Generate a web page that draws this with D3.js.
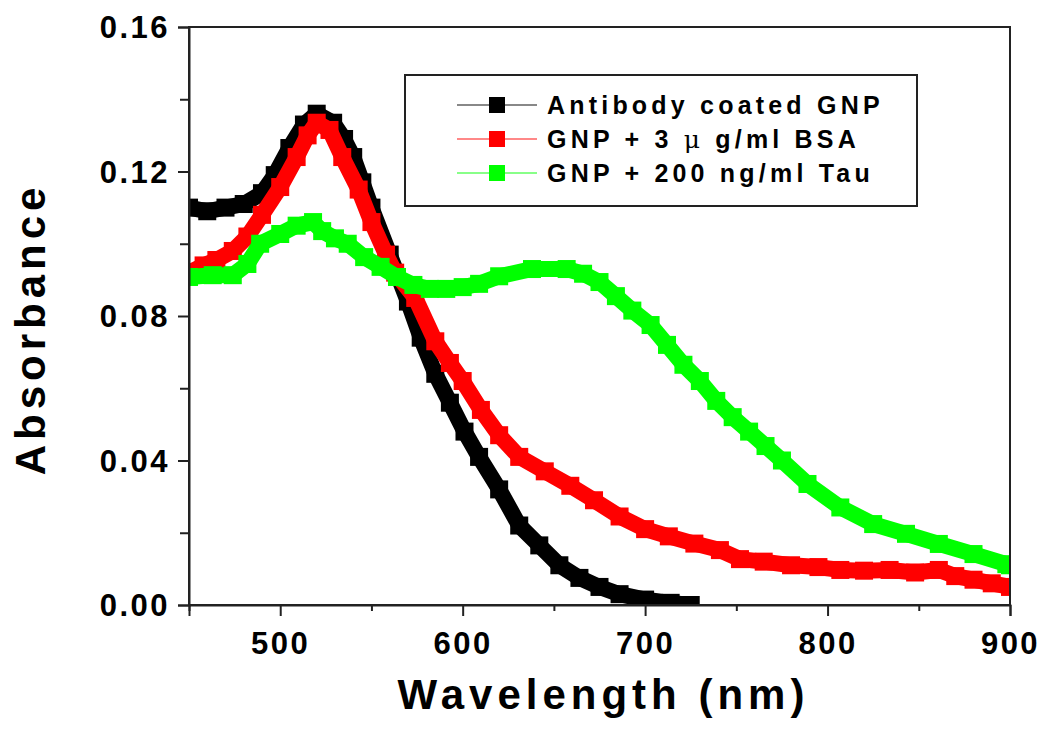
<!DOCTYPE html>
<html>
<head>
<meta charset="utf-8">
<script src="https://cdn.jsdelivr.net/npm/d3@7"></script>
<style>
  body { margin: 0; background: #fff; }
  text { font-family: "Liberation Sans", Arial, sans-serif; font-weight: bold; }
</style>
</head>
<body>
<div id="my_dataviz"></div>
<script>
// data: wavelength (nm) and absorbance for each sample
var antibodyNm  = [450,460,470,480,490,497,505,513,520,529,535,540,545,550,560,570,577,585,593,601,609,620,631,642,653,664,675,686,700,714,725];
var antibodyAbs = [0.110,0.109,0.110,0.111,0.114,0.119,0.1265,0.133,0.136,0.1335,0.129,0.124,0.117,0.110,0.097,0.084,0.074,0.064,0.056,0.048,0.041,0.032,0.022,0.0165,0.011,0.0075,0.005,0.003,0.0015,0.0006,0.0];

var bsaNm  = [450,458,465,474,482,490,500,509,515,520,527,534,543,550,558,563,574,585,593,600,610,620,631,645,659,672,686,700,713,727,741,752,765,780,795,807,820,834,848,861,870,880,890,900];
var bsaAbs = [0.092,0.094,0.0955,0.098,0.102,0.108,0.1157,0.124,0.130,0.1335,0.1315,0.124,0.115,0.106,0.097,0.092,0.085,0.073,0.067,0.062,0.054,0.047,0.041,0.037,0.033,0.029,0.0245,0.021,0.019,0.017,0.0152,0.0127,0.012,0.011,0.0105,0.0097,0.0095,0.0097,0.009,0.0097,0.008,0.007,0.006,0.005];

var tauNm  = [450,463,474,482,489,500,509,518,523,530,537,546,555,564,573,582,591,600,609,620,638,657,666,675,684,693,703,712,721,730,739,748,757,766,775,789,807,825,843,861,880,898,900];
var tauAbs = [0.0908,0.0913,0.0913,0.0944,0.100,0.1027,0.105,0.106,0.1035,0.1015,0.100,0.0963,0.0936,0.0908,0.0886,0.0875,0.0875,0.088,0.0889,0.091,0.093,0.093,0.0917,0.0894,0.0855,0.0815,0.0775,0.072,0.0665,0.062,0.0565,0.052,0.048,0.044,0.040,0.0335,0.027,0.0224,0.0197,0.0169,0.0141,0.0113,0.011];

var seriesNames = ["Antibody coated GNP", "GNP + 3 \u03bc g/ml BSA", "GNP + 200 ng/ml Tau"];
var seriesColors = ["#000000", "#ff0000", "#00ff00"];
var legendLineColors = ["#888888", "#ff8888", "#88ff88"];

var xTicks = [500, 600, 700, 800, 900];
var yTicks = [0.00, 0.04, 0.08, 0.12, 0.16];

// set the dimensions and margins of the graph
var margin = {top: 27, right: 40, bottom: 126, left: 189},
    width = 1050 - margin.left - margin.right,
    height = 731 - margin.top - margin.bottom;

var svg = d3.select("#my_dataviz")
  .append("svg")
    .attr("width", 1050)
    .attr("height", 731)
  .append("g")
    .attr("transform", "translate(" + margin.left + "," + margin.top + ")");

var x = d3.scaleLinear().domain([450, 900]).range([0, width]);
var y = d3.scaleLinear().domain([0, 0.16]).range([height, 0]);

// curves: a thick band plus square markers on every point
var series = [
  {nm: antibodyNm, abs: antibodyAbs},
  {nm: bsaNm, abs: bsaAbs},
  {nm: tauNm, abs: tauAbs}
];

var plot = svg.append("g");
var sq = 18;

series.forEach(function(s, i) {
  var pts = s.nm.map(function(d, j) { return [d, s.abs[j]]; });
  plot.append("path")
    .datum(pts)
    .attr("d", d3.line()
      .x(function(d) { return x(d[0]); })
      .y(function(d) { return y(d[1]); }))
    .attr("fill", "none")
    .attr("stroke", seriesColors[i])
    .attr("stroke-width", 16)
    .attr("stroke-linejoin", "round");
  plot.selectAll(".m" + i)
    .data(pts)
    .enter()
    .append("rect")
      .attr("x", function(d) { return x(d[0]) - sq / 2; })
      .attr("y", function(d) { return y(d[1]) - sq / 2; })
      .attr("width", sq)
      .attr("height", sq)
      .attr("fill", seriesColors[i]);
});

// white out anything spilling over the frame
svg.append("rect").attr("x", -margin.left).attr("y", height + 1).attr("width", 1050).attr("height", margin.bottom).attr("fill", "#fff");
svg.append("rect").attr("x", width + 1).attr("y", -margin.top).attr("width", margin.right).attr("height", 731).attr("fill", "#fff");
svg.append("rect").attr("x", -margin.left).attr("y", -margin.top).attr("width", margin.left - 1).attr("height", 731).attr("fill", "#fff");

// frame
svg.append("rect")
  .attr("width", width)
  .attr("height", height)
  .attr("fill", "none")
  .attr("stroke", "#222")
  .attr("stroke-width", 2);

// X axis
var xAxis = svg.append("g")
  .attr("transform", "translate(0," + height + ")")
  .call(d3.axisBottom(x).tickValues(xTicks).tickSize(11).tickPadding(12).tickFormat(d3.format("d")));
svg.append("g")
  .attr("transform", "translate(0," + height + ")")
  .call(d3.axisBottom(x).tickValues([450, 550, 650, 750, 850]).tickSize(6).tickFormat(""))
  .select(".domain").remove();

// Y axis
var yAxis = svg.append("g")
  .call(d3.axisLeft(y).tickValues(yTicks).tickSize(11).tickPadding(8).tickFormat(d3.format(".2f")));
svg.append("g")
  .call(d3.axisLeft(y).tickValues([0.02, 0.06, 0.10, 0.14]).tickSize(9).tickFormat(""))
  .select(".domain").remove();

svg.selectAll(".domain").attr("stroke", "#222").attr("stroke-width", 2);
svg.selectAll(".tick line").attr("stroke", "#222").attr("stroke-width", 2);
svg.selectAll(".tick text")
  .style("font-family", "'Liberation Sans', Arial, sans-serif")
  .style("font-weight", "bold")
  .style("font-size", "31px")
  .style("letter-spacing", "2.5px")
  .attr("fill", "#000");
xAxis.selectAll(".tick text").attr("dy", "0.85em");
yAxis.selectAll(".tick text").attr("dy", "0.35em");

// axis titles
svg.append("text")
  .attr("x", width / 2 + 4)
  .attr("y", height + 104)
  .attr("text-anchor", "middle")
  .style("font-size", "42px")
  .style("letter-spacing", "5px")
  .text("Wavelength (nm)");

svg.append("text")
  .attr("transform", "translate(" + (-144) + "," + (height / 2 + 13) + ") rotate(-90)")
  .attr("text-anchor", "middle")
  .style("font-size", "42px")
  .style("letter-spacing", "5px")
  .text("Absorbance");

// legend
var legend = svg.append("g").attr("transform", "translate(" + (405 - margin.left) + "," + (75 - margin.top) + ")");
legend.append("rect")
  .attr("width", 512)
  .attr("height", 131)
  .attr("fill", "#fff")
  .attr("stroke", "#222")
  .attr("stroke-width", 2);

seriesNames.forEach(function(name, i) {
  var ly = 30 + i * 34;
  legend.append("line")
    .attr("x1", 52).attr("x2", 132)
    .attr("y1", ly).attr("y2", ly)
    .attr("stroke", legendLineColors[i])
    .attr("stroke-width", 2);
  legend.append("rect")
    .attr("x", 92 - 8).attr("y", ly - 8)
    .attr("width", 16).attr("height", 16)
    .attr("fill", seriesColors[i]);
  var t = legend.append("text")
    .attr("x", 142)
    .attr("y", ly + 9)
    .style("font-size", "25px")
    .style("letter-spacing", "4.2px");
  if (i == 1) {
    t.append("tspan").text("GNP + 3 ");
    t.append("tspan").style("font-family", "'DejaVu Serif', serif").style("font-weight", "normal").text("\u03bc");
    t.append("tspan").text(" g/ml BSA");
  } else {
    t.text(name);
  }
});
</script>
</body>
</html>
